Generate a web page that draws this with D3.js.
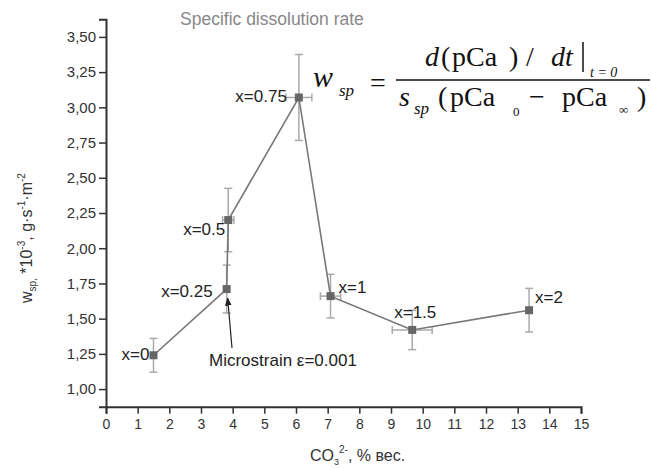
<!DOCTYPE html>
<html><head><meta charset="utf-8">
<script src="https://cdn.jsdelivr.net/npm/d3@7"></script>
<style>
html,body{margin:0;padding:0;background:#fff;}
svg{display:block;font-family:"Liberation Sans",Arial,sans-serif;}
</style></head>
<body><svg id="c" width="651" height="468"></svg>
<script>
// ---- data ----
const pointLabels = ["x=0","x=0.25","x=0.5","x=0.75","x=1","x=1.5","x=2"];
const co3 = [1.5, 3.81, 3.86, 6.09, 7.09, 9.67, 13.36];
const wsp = [1.24, 1.71, 2.20, 3.07, 1.66, 1.42, 1.56];
const wspErr = [0.12, 0.17, 0.225, 0.305, 0.155, 0.14, 0.155];
const co3Err = [0, 0, 0.18, 0.41, 0.32, 0.63, 0];
const xTicks = d3.range(0, 16, 1);
const xMinorTicks = d3.range(0, 15.01, 0.5);
const yTicks = [1.00,1.25,1.50,1.75,2.00,2.25,2.50,2.75,3.00,3.25,3.50];
const yMinorTicks = d3.range(0.875, 3.626, 0.125);
// label layout (pixel offsets from marker, anchor)
const labelLayout = [[-4,5,"end"],[-14,8,"end"],[-3,15,"end"],[-12,5,"end"],[8,-3,"start"],[-18,-12,"start"],[6,-7,"start"]];

const svg = d3.select("#c");
const x = d3.scaleLinear().domain([0,15]).range([106,581]);
const y = d3.scaleLinear().domain([0.875,3.625]).range([406.7,19.3]);
const fmtY = v => d3.format(".2f")(v).replace(".", ",");

// axes
const gx = svg.append("g").attr("transform","translate(0,406.7)");
gx.call(d3.axisBottom(x).tickValues(xMinorTicks).tickSize(4).tickFormat(""));
gx.call(d3.axisBottom(x).tickValues(xTicks).tickSize(7).tickPadding(5).tickFormat(d3.format("d")));
const gy = svg.append("g").attr("transform","translate(106,0)");
gy.call(d3.axisLeft(y).tickValues(yMinorTicks).tickSize(4).tickFormat(""));
gy.call(d3.axisLeft(y).tickValues(yTicks).tickSize(7).tickPadding(3).tickFormat(fmtY));
svg.selectAll(".domain").attr("stroke","#333").attr("stroke-width",2);
svg.selectAll(".tick line").attr("stroke","#333").attr("stroke-width",1.5);
gx.selectAll(".tick text").attr("font-size",14).attr("fill","#333").attr("font-family","Liberation Sans, Arial");
gy.selectAll(".tick text").attr("font-size",15).attr("fill","#333").attr("font-family","Liberation Sans, Arial");

// error bars
const eb = svg.append("g").attr("stroke","#aaa").attr("stroke-width",1.5).attr("fill","none");
co3.forEach((cx,i)=>{
  const px = x(cx), py = y(wsp[i]);
  const t = y(wsp[i]+wspErr[i]), b = y(wsp[i]-wspErr[i]);
  eb.append("line").attr("x1",px).attr("x2",px).attr("y1",t).attr("y2",b);
  eb.append("line").attr("x1",px-4).attr("x2",px+4).attr("y1",t).attr("y2",t);
  eb.append("line").attr("x1",px-4).attr("x2",px+4).attr("y1",b).attr("y2",b);
  if (co3Err[i]>0){
    const l = x(cx-co3Err[i]), r = x(cx+co3Err[i]);
    eb.append("line").attr("x1",l).attr("x2",r).attr("y1",py).attr("y2",py);
    eb.append("line").attr("x1",l).attr("x2",l).attr("y1",py-4).attr("y2",py+4);
    eb.append("line").attr("x1",r).attr("x2",r).attr("y1",py-4).attr("y2",py+4);
  }
});

// line
const pts = co3.map((c,i)=>[c,wsp[i]]);
svg.append("path").datum(pts)
  .attr("d", d3.line().x(d=>x(d[0])).y(d=>y(d[1])))
  .attr("fill","none").attr("stroke","#777").attr("stroke-width",1.6);

// markers
svg.append("g").selectAll("rect").data(pts).join("rect")
  .attr("x",d=>x(d[0])-4).attr("y",d=>y(d[1])-4).attr("width",8).attr("height",8)
  .attr("fill","#666");

// point labels
svg.append("g").selectAll("text").data(pointLabels).join("text")
  .attr("x",(d,i)=>x(co3[i])+labelLayout[i][0])
  .attr("y",(d,i)=>y(wsp[i])+labelLayout[i][1])
  .attr("text-anchor",(d,i)=>labelLayout[i][2])
  .attr("font-size",17).attr("fill","#222").text(d=>d);

// microstrain annotation
const defs = svg.append("defs");
defs.append("marker").attr("id","ah").attr("viewBox","0 0 10 10").attr("refX",9).attr("refY",5)
  .attr("markerWidth",7).attr("markerHeight",9).attr("orient","auto")
  .append("path").attr("d","M0,1 L10,5 L0,9 Z").attr("fill","#222");
svg.append("line").attr("x1",232).attr("y1",348).attr("x2",x(co3[1])+1).attr("y2",y(wsp[1])+9)
  .attr("stroke","#222").attr("stroke-width",1.2).attr("marker-end","url(#ah)");
svg.append("text").attr("x",209).attr("y",366).attr("font-size",17).attr("fill","#222")
  .text("Microstrain ε=0.001");

// title
svg.append("text").attr("x",180).attr("y",25).attr("font-size",17.5).attr("fill","#888")
  .text("Specific dissolution rate");

// axis titles
const yt = svg.append("text").attr("transform","translate(32,303) rotate(-90)")
  .attr("font-size",16).attr("fill","#333");
yt.append("tspan").text("w");
yt.append("tspan").attr("font-size",10).attr("dy",4).text("sp,");
yt.append("tspan").attr("dy",-4).text(" *10");
yt.append("tspan").attr("font-size",10).attr("dy",-7).text("-3");
yt.append("tspan").attr("dy",7).text(", g·s");
yt.append("tspan").attr("font-size",10).attr("dy",-7).text("-1");
yt.append("tspan").attr("dy",7).text("·m");
yt.append("tspan").attr("font-size",10).attr("dy",-7).text("-2");

const xt = svg.append("text").attr("x",310).attr("y",461).attr("font-size",16).attr("fill","#333");
xt.append("tspan").text("CO");
xt.append("tspan").attr("font-size",9).attr("dy",4).text("3");
xt.append("tspan").attr("font-size",10).attr("dy",-12).text("2-");
xt.append("tspan").attr("dy",8).text(", % вес.");

// formula
const F = svg.append("g").attr("font-family","Liberation Serif, Times New Roman, serif").attr("fill","#111");
function t(xp, yp, s, size, italic){
  F.append("text").attr("x",xp).attr("y",yp).attr("font-size",size)
   .attr("font-style",italic?"italic":"normal").text(s);
}
t(313, 87, "w", 30, true);
t(339, 96, "sp", 17, true);
t(370, 92, "=", 28, false);
F.append("line").attr("x1",396).attr("x2",650).attr("y1",80).attr("y2",80).attr("stroke","#111").attr("stroke-width",1.5);
t(425, 66, "d", 28, true);
t(441, 66, "(", 28, false);
t(452, 66, "pCa", 28, false);
t(509, 66, ")", 28, false);
t(526, 66, "/", 28, false);
t(551, 66, "dt", 28, true);
F.append("line").attr("x1",583).attr("x2",583).attr("y1",42).attr("y2",72).attr("stroke","#111").attr("stroke-width",1.5);
t(590, 77, "t = 0", 14, true);
t(399, 106, "s", 28, true);
t(414, 114, "sp", 17, true);
t(438, 106, "(", 28, false);
t(450, 106, "pCa", 28, false);
t(513, 116, "0", 13, false);
t(529, 106, "−", 28, false);
t(562, 106, "pCa", 28, false);
t(619, 114, "∞", 13, false);
t(637, 106, ")", 28, false);
</script></body></html>
